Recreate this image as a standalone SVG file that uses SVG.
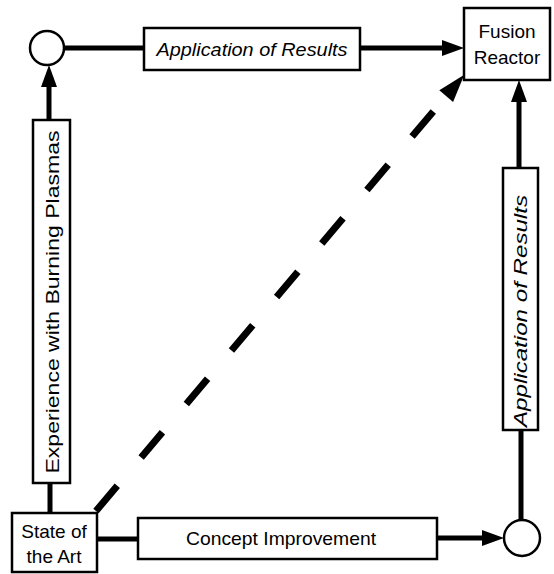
<svg xmlns="http://www.w3.org/2000/svg" width="554" height="574" viewBox="0 0 554 574">
<style>
.box{fill:#fff;stroke:#000;stroke-width:2.5}
.circ{fill:#fff;stroke:#000;stroke-width:2.5}
.line{stroke:#000;stroke-width:5;fill:none}
.dash{stroke:#000;stroke-width:7;fill:none;stroke-dasharray:33 37}
text{font-family:"Liberation Sans",Arial,sans-serif;font-size:19px;fill:#000}
.it{font-style:italic}
.c{text-anchor:middle}
</style>
<defs>
<marker id="arr" markerUnits="userSpaceOnUse" markerWidth="22" markerHeight="16" viewBox="0 -8 22 16" refX="0" refY="0" orient="auto" overflow="visible">
<path d="M0,-8 L22,0 L0,8 z" fill="#000"/>
</marker>
<marker id="arrd" markerUnits="userSpaceOnUse" markerWidth="28" markerHeight="18" viewBox="0 -9 28 18" refX="-20" refY="0" orient="auto" overflow="visible">
<path d="M0,-9 L28,0 L0,9 z" fill="#000"/>
</marker>
</defs>
<g id="connectors">
<line class="line" x1="64" y1="48" x2="144" y2="48"/>
<line class="line" x1="360" y1="48" x2="442" y2="48" marker-end="url(#arr)"/>
<line class="line" x1="50" y1="513" x2="50" y2="483"/>
<line class="line" x1="49" y1="120" x2="49" y2="87" marker-end="url(#arr)"/>
<line class="line" x1="97" y1="539" x2="138" y2="539"/>
<line class="line" x1="437" y1="538" x2="482" y2="538" marker-end="url(#arr)"/>
<line class="line" x1="521" y1="520" x2="521" y2="430"/>
<line class="line" x1="519" y1="168" x2="519" y2="102" marker-end="url(#arr)"/>
<line class="dash" x1="96" y1="511" x2="433.3" y2="111.4" marker-end="url(#arrd)"/>
</g>
<g id="node-circle-top">
<circle class="circ" cx="47" cy="48" r="17"/>
</g>
<g id="node-circle-bottom">
<circle class="circ" cx="522" cy="538" r="18"/>
</g>
<g id="node-app-top">
<rect class="box" x="144" y="28" width="216" height="42"/>
<text class="it c" x="252" y="56" textLength="191" lengthAdjust="spacingAndGlyphs">Application of Results</text>
</g>
<g id="node-fusion">
<rect class="box" x="464" y="8" width="86" height="72"/>
<text class="c" x="507" y="38">Fusion</text>
<text class="c" x="507" y="64">Reactor</text>
</g>
<g id="node-experience">
<rect class="box" x="33" y="120" width="37" height="363"/>
<text class="c" transform="translate(59,302) rotate(-90)" textLength="343" lengthAdjust="spacingAndGlyphs">Experience with Burning Plasmas</text>
</g>
<g id="node-app-right">
<rect class="box" x="503" y="168" width="35" height="262"/>
<text class="it c" transform="translate(527,311) rotate(-90)" textLength="232" lengthAdjust="spacingAndGlyphs">Application of Results</text>
</g>
<g id="node-state">
<rect class="box" x="12" y="513" width="85" height="59"/>
<text class="c" x="54" y="538">State of</text>
<text class="c" x="54" y="563">the Art</text>
</g>
<g id="node-concept">
<rect class="box" x="138" y="518" width="299" height="41"/>
<text class="c" x="281" y="545" textLength="190" lengthAdjust="spacingAndGlyphs">Concept Improvement</text>
</g>
</svg>
